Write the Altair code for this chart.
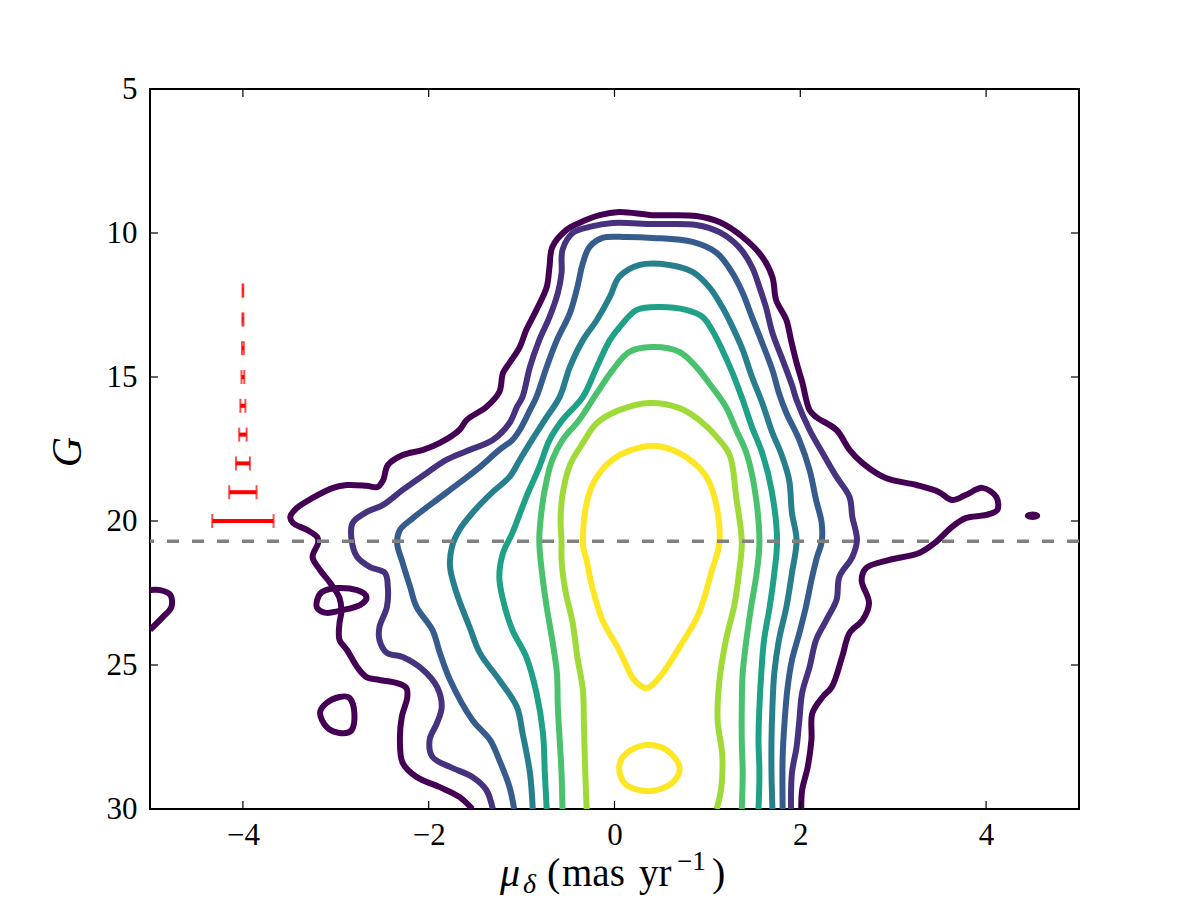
import altair as alt
import pandas as pd

# ---------------- data (mu_delta [mas/yr], G [mag]) ----------------
levels = ["L0", "L1", "L2", "L3", "L4", "L5", "L6", "L7"]
level_colors = ["#440154", "#46327e", "#365c8d", "#277f8e",
                "#1fa187", "#4ac16d", "#a0da39", "#fde725"]

c0_main = [(-1.53, 30.0), (-1.67, 29.58), (-1.88, 29.24), (-2.13, 28.89), (-2.28, 28.40),
           (-2.31, 27.60), (-2.29, 26.81), (-2.23, 26.11), (-2.24, 25.80), (-2.34, 25.63),
           (-2.53, 25.52), (-2.67, 25.42), (-2.77, 25.07), (-2.88, 24.48), (-2.96, 24.13),
           (-2.96, 23.54), (-2.94, 23.16), (-2.96, 22.67), (-3.06, 22.15), (-3.17, 21.70),
           (-3.25, 21.25), (-3.19, 20.76), (-3.20, 20.56), (-3.31, 20.31), (-3.46, 20.07),
           (-3.49, 19.86), (-3.42, 19.55), (-3.25, 19.20), (-3.03, 18.85), (-2.88, 18.75),
           (-2.67, 18.78), (-2.55, 18.82), (-2.49, 18.58), (-2.44, 18.06), (-2.28, 17.71),
           (-2.06, 17.53), (-1.88, 17.29), (-1.67, 16.84), (-1.59, 16.49), (-1.38, 16.04),
           (-1.24, 15.52), (-1.20, 14.86), (-1.13, 14.51), (-1.02, 13.96), (-0.95, 13.37),
           (-0.84, 12.67), (-0.73, 11.88), (-0.70, 11.18), (-0.67, 10.49), (-0.52, 9.90),
           (-0.38, 9.65), (-0.16, 9.38), (0.05, 9.27), (0.41, 9.38), (0.88, 9.41),
           (1.13, 9.62), (1.38, 10.14), (1.59, 10.83), (1.70, 11.53), (1.74, 12.33),
           (1.85, 13.02), (1.90, 13.72), (1.96, 14.51), (2.02, 15.17), (2.10, 16.15),
           (2.17, 16.39), (2.39, 16.84), (2.53, 17.53), (2.67, 17.99), (2.92, 18.51),
           (3.25, 18.75), (3.49, 18.99), (3.63, 19.27), (3.78, 19.10), (3.96, 18.85),
           (4.11, 19.17), (4.12, 19.62), (4.00, 19.79), (3.78, 19.90), (3.63, 20.21),
           (3.46, 20.73), (3.28, 21.11), (2.96, 21.35), (2.71, 21.63), (2.66, 22.05),
           (2.74, 22.85), (2.67, 23.44), (2.53, 23.89), (2.45, 24.72), (2.34, 25.76),
           (2.24, 26.11), (2.13, 26.67), (2.12, 27.60), (2.08, 28.54), (2.02, 29.34),
           (2.01, 30.0)]
c0_edge = [(-5.0, 22.40), (-4.89, 22.40), (-4.78, 22.57), (-4.77, 22.99), (-4.86, 23.33),
           (-5.0, 23.78)]
c0_loop_a = [(-3.20, 22.74), (-3.15, 22.47), (-2.99, 22.33), (-2.77, 22.40), (-2.67, 22.64),
             (-2.74, 22.92), (-2.92, 23.09), (-3.10, 23.19), (-3.20, 23.02)]
c0_loop_b = [(-3.17, 26.67), (-3.10, 26.32), (-2.96, 26.11), (-2.85, 26.15), (-2.80, 26.67),
             (-2.83, 27.26), (-2.96, 27.36), (-3.10, 27.15)]
c0_blob = [(4.45, 19.82), (4.50, 19.77), (4.55, 19.82), (4.50, 19.86)]

c1 = [(-1.31, 30.0), (-1.38, 29.34), (-1.53, 28.89), (-1.77, 28.54), (-1.96, 28.19),
      (-1.99, 27.60), (-1.91, 27.01), (-1.86, 26.46), (-1.91, 25.76), (-2.06, 25.17),
      (-2.28, 24.72), (-2.45, 24.58), (-2.53, 24.13), (-2.53, 23.68), (-2.45, 22.99),
      (-2.44, 22.29), (-2.47, 21.81), (-2.63, 21.60), (-2.77, 21.25), (-2.83, 20.66),
      (-2.82, 20.07), (-2.67, 19.69), (-2.49, 19.44), (-2.28, 18.92), (-2.02, 18.33),
      (-1.81, 17.88), (-1.59, 17.57), (-1.31, 17.19), (-1.13, 16.60), (-1.05, 16.04),
      (-0.99, 15.69), (-0.91, 14.65), (-0.81, 13.72), (-0.70, 12.92), (-0.61, 12.08),
      (-0.57, 11.39), (-0.56, 10.59), (-0.45, 10.0), (-0.27, 9.79), (-0.02, 9.65),
      (0.41, 9.69), (0.88, 9.72), (1.13, 9.97), (1.34, 10.49), (1.48, 11.18),
      (1.56, 11.88), (1.63, 12.57), (1.70, 13.47), (1.81, 14.41), (1.91, 15.28),
      (1.96, 15.80), (2.10, 16.84), (2.24, 17.64), (2.39, 18.47), (2.53, 19.17),
      (2.56, 19.86), (2.61, 20.66), (2.56, 21.25), (2.42, 21.94), (2.39, 22.74),
      (2.28, 23.44), (2.17, 24.13), (2.10, 25.07), (2.02, 25.97), (1.99, 26.91),
      (1.96, 27.85), (1.91, 28.75), (1.90, 30.0)]

c2 = [(-1.08, 30.0), (-1.13, 29.24), (-1.24, 28.30), (-1.34, 27.60), (-1.53, 26.91),
      (-1.77, 25.52), (-1.88, 24.58), (-1.96, 23.78), (-2.13, 22.99), (-2.20, 22.29),
      (-2.28, 21.46), (-2.34, 20.76), (-2.31, 20.31), (-2.17, 19.90), (-1.96, 19.38),
      (-1.67, 18.68), (-1.45, 18.13), (-1.24, 17.53), (-1.10, 17.19), (-1.02, 16.84),
      (-0.91, 16.15), (-0.84, 15.69), (-0.73, 14.65), (-0.62, 13.72), (-0.48, 12.78),
      (-0.40, 11.88), (-0.34, 11.04), (-0.27, 10.49), (-0.13, 10.17), (0.13, 10.14),
      (0.41, 10.17), (0.84, 10.31), (1.10, 10.69), (1.27, 11.39), (1.38, 12.08),
      (1.48, 12.92), (1.59, 13.82), (1.70, 14.76), (1.77, 15.56), (1.85, 16.25),
      (1.99, 17.19), (2.10, 18.23), (2.17, 19.27), (2.23, 20.07), (2.23, 20.73),
      (2.18, 21.25), (2.12, 22.05), (2.06, 22.99), (1.99, 23.89), (1.91, 24.83),
      (1.86, 25.87), (1.83, 27.01), (1.81, 28.19), (1.81, 30.0)]

c3 = [(-0.88, 30.0), (-0.91, 28.75), (-0.99, 27.36), (-1.05, 26.46), (-1.24, 25.52),
      (-1.45, 24.58), (-1.56, 23.68), (-1.70, 22.50), (-1.77, 21.60), (-1.75, 20.90),
      (-1.67, 20.31), (-1.53, 19.72), (-1.31, 18.99), (-1.13, 18.47), (-1.02, 17.88),
      (-0.89, 17.19), (-0.75, 16.49), (-0.59, 15.69), (-0.48, 14.65), (-0.34, 13.72),
      (-0.19, 13.02), (-0.05, 12.22), (0.05, 11.53), (0.27, 11.11), (0.59, 11.11),
      (0.84, 11.35), (1.02, 11.88), (1.16, 12.57), (1.27, 13.26), (1.38, 14.06),
      (1.48, 15.0), (1.59, 15.90), (1.70, 16.94), (1.80, 17.71), (1.88, 18.58),
      (1.91, 19.72), (1.96, 20.66), (1.91, 21.81), (1.85, 22.99), (1.77, 24.13),
      (1.72, 25.28), (1.70, 26.46), (1.69, 27.60), (1.69, 28.75), (1.70, 30.0)]

c4 = [(-0.73, 30.0), (-0.75, 28.75), (-0.77, 27.36), (-0.84, 25.97), (-0.95, 24.72),
      (-1.10, 23.78), (-1.20, 22.74), (-1.24, 21.94), (-1.20, 21.11), (-1.10, 20.42),
      (-0.95, 19.17), (-0.81, 18.13), (-0.70, 17.19), (-0.56, 16.49), (-0.34, 15.69),
      (-0.19, 14.65), (-0.05, 13.72), (0.09, 13.13), (0.24, 12.67), (0.48, 12.57),
      (0.77, 12.67), (0.95, 12.92), (1.05, 13.37), (1.16, 14.06), (1.27, 14.86),
      (1.38, 15.80), (1.48, 16.74), (1.59, 17.64), (1.69, 18.92), (1.75, 20.66),
      (1.72, 21.81), (1.67, 22.99), (1.61, 24.13), (1.58, 25.28), (1.56, 26.46),
      (1.55, 27.60), (1.56, 28.75), (1.55, 30.0)]

c5 = [(-0.56, 30.0), (-0.57, 28.75), (-0.59, 27.60), (-0.61, 26.46), (-0.62, 25.28),
      (-0.67, 24.13), (-0.73, 22.99), (-0.78, 21.81), (-0.81, 20.66), (-0.78, 19.51),
      (-0.73, 18.58), (-0.67, 17.88), (-0.56, 17.19), (-0.38, 16.49), (-0.19, 15.56),
      (-0.02, 14.76), (0.16, 14.13), (0.40, 13.96), (0.70, 14.13), (0.88, 14.65),
      (1.05, 15.35), (1.20, 16.04), (1.31, 16.84), (1.42, 17.64), (1.51, 18.92),
      (1.56, 20.73), (1.53, 21.81), (1.47, 22.99), (1.42, 24.13), (1.38, 25.28),
      (1.37, 26.46), (1.37, 27.60), (1.38, 28.75), (1.37, 30.0)]

c6 = [(-0.30, 30.0), (-0.32, 28.19), (-0.33, 26.91), (-0.34, 25.87), (-0.40, 24.72),
      (-0.45, 23.54), (-0.53, 22.40), (-0.57, 21.35), (-0.57, 20.73), (-0.58, 19.97),
      (-0.56, 19.10), (-0.48, 18.06), (-0.34, 17.29), (-0.19, 16.60), (0.05, 16.15),
      (0.38, 15.90), (0.70, 16.08), (0.91, 16.49), (1.10, 17.08), (1.24, 17.71),
      (1.31, 19.17), (1.37, 20.73), (1.34, 21.81), (1.29, 22.92), (1.20, 24.13),
      (1.13, 25.52), (1.11, 26.91), (1.16, 28.13), (1.15, 29.24), (1.10, 30.0)]

c7_main = [(-0.34, 20.76), (-0.30, 19.38), (-0.19, 18.47), (0.02, 17.78), (0.30, 17.43),
           (0.52, 17.43), (0.77, 17.78), (0.99, 18.47), (1.10, 19.51), (1.13, 20.73),
           (1.05, 21.70), (0.91, 23.19), (0.70, 24.38), (0.52, 25.28), (0.38, 25.76),
           (0.30, 25.76), (0.19, 25.42), (0.05, 24.48), (-0.13, 23.44), (-0.24, 22.29),
           (-0.30, 21.35)]
c7_small = [(0.05, 28.58), (0.13, 28.06), (0.34, 27.78), (0.56, 27.95), (0.70, 28.54),
            (0.62, 29.10), (0.38, 29.38), (0.13, 29.17)]

open_paths = [("L0", c0_main), ("L0", c0_edge), ("L1", c1), ("L2", c2), ("L3", c3),
              ("L4", c4), ("L5", c5), ("L6", c6)]
closed_paths = [("L0", c0_loop_a), ("L0", c0_loop_b), ("L0", c0_blob),
                ("L7", c7_main), ("L7", c7_small)]

# error bars at mu = -4
eb_center = -4.0
eb_g = [12, 13, 14, 15, 16, 17, 18, 19, 20]
eb_err = [0.004, 0.006, 0.01, 0.015, 0.027, 0.04, 0.075, 0.147, 0.33]

g_limit = 20.7

x_ticks = [-4, -2, 0, 2, 4]
y_ticks = [5, 10, 15, 20, 25, 30]


def to_frame(paths, prefix):
    rows = []
    for k, (lev, pts) in enumerate(paths):
        for i, (m, g) in enumerate(pts):
            rows.append({"mu": m, "G": g, "level": lev, "seg": f"{prefix}{k}", "i": i})
    return pd.DataFrame(rows)


df_open = to_frame(open_paths, "o")
df_closed = to_frame(closed_paths, "c")

W, H = 929, 720
FONT = "Liberation Serif"
x_scale = alt.Scale(domain=[-5, 5], nice=False, zero=False)
y_scale = alt.Scale(domain=[5, 30], reverse=True, nice=False, zero=False)
color = alt.Color("level:N", scale=alt.Scale(domain=levels, range=level_colors), legend=None)

x_axis = alt.Axis(values=x_ticks, title=None, domain=False, ticks=False, tickSize=0,
                  grid=False, labelPadding=11, labelFont=FONT, labelFontSize=31,
                  labelColor="black", labelExpr="replace(datum.label, '-', '\u2212')")
y_axis = alt.Axis(values=y_ticks, title=None, domain=False, ticks=False, tickSize=0,
                  grid=False, labelPadding=13, labelFont=FONT, labelFontSize=31,
                  labelColor="black")


def X(field):
    return alt.X(field, scale=x_scale, axis=x_axis, title=None)


def Y(field):
    return alt.Y(field, scale=y_scale, axis=y_axis, title=None)


LW = 6
open_lines = alt.Chart(df_open).mark_line(
    strokeWidth=LW, interpolate="catmull-rom", strokeJoin="round", clip=True
).encode(x=X("mu:Q"), y=Y("G:Q"), color=color, detail="seg:N", order="i:Q")

closed_lines = alt.Chart(df_closed).mark_line(
    strokeWidth=LW, interpolate="cardinal-closed", strokeJoin="round", clip=True
).encode(x=X("mu:Q"), y=Y("G:Q"), color=color, detail="seg:N", order="i:Q")

dash = alt.Chart(pd.DataFrame({"G": [g_limit]})).mark_rule(
    color="#808080", strokeWidth=3.5, strokeDash=[12, 13]
).encode(y=Y("G:Q"))

eb_df = pd.DataFrame({
    "G": eb_g,
    "lo": [eb_center - e for e in eb_err],
    "hi": [eb_center + e for e in eb_err],
})
eb_bar = alt.Chart(eb_df).mark_rule(color="#ff0000", strokeWidth=4).encode(
    x=X("lo:Q"), x2="hi:Q", y=Y("G:Q"))
eb_cap_lo = alt.Chart(eb_df).mark_tick(color="#ff0000", thickness=2, size=14,
                                       orient="vertical").encode(x=X("lo:Q"), y=Y("G:Q"))
eb_cap_hi = alt.Chart(eb_df).mark_tick(color="#ff0000", thickness=2, size=14,
                                       orient="vertical").encode(x=X("hi:Q"), y=Y("G:Q"))

# inward ticks on all four sides
xt = pd.DataFrame({"v": x_ticks})
yt = pd.DataFrame({"v": y_ticks})
tick_style = dict(color="black", strokeWidth=1.2)
tick_b = alt.Chart(xt).mark_rule(**tick_style).encode(
    x=X("v:Q"), y=alt.value(H - 8), y2=alt.value(H))
tick_t = alt.Chart(xt).mark_rule(**tick_style).encode(
    x=X("v:Q"), y=alt.value(0), y2=alt.value(8))
tick_l = alt.Chart(yt).mark_rule(**tick_style).encode(
    y=Y("v:Q"), x=alt.value(0), x2=alt.value(8))
tick_r = alt.Chart(yt).mark_rule(**tick_style).encode(
    y=Y("v:Q"), x=alt.value(W - 8), x2=alt.value(W))

one = pd.DataFrame({"a": [0]})


def label(txt, x, y, size, style="normal", angle=0, align="left", baseline="alphabetic"):
    return alt.Chart(one).mark_text(
        text=txt, font=FONT, fontSize=size, fontStyle=style, angle=angle,
        align=align, baseline=baseline, color="black"
    ).encode(x=alt.value(x), y=alt.value(y))


# x-axis title: mu_delta (mas yr^-1), y-axis title: G
BL = 886
title_parts = [
    label("\u03bc", 500 - 150, BL - 89, 40, "italic"),
    label("\u03b4", 523 - 150, BL + 7 - 89, 28, "italic"),
    label("(", 547 - 150, BL - 89, 40),
    label("mas", 562 - 150, BL - 89, 39),
    label("yr", 639 - 150, BL - 89, 39),
    label("\u22121", 677 - 150, BL - 16 - 89, 27),
    label(")", 712 - 150, BL - 89, 40),
    label("G", 68 - 150, 452 - 89, 42, "italic", angle=270, align="center", baseline="middle"),
]

chart = alt.layer(
    open_lines, closed_lines, dash, eb_bar, eb_cap_lo, eb_cap_hi,
    tick_b, tick_t, tick_l, tick_r, *title_parts
).properties(
    width=W, height=H,
    autosize=alt.AutoSizeParams(type="none"),
    padding={"left": 150, "top": 89, "right": 121, "bottom": 91},
    background="white",
).configure_view(stroke="black", strokeWidth=2)

chart.save("out.html", embed_options={"renderer": "svg", "actions": False})
